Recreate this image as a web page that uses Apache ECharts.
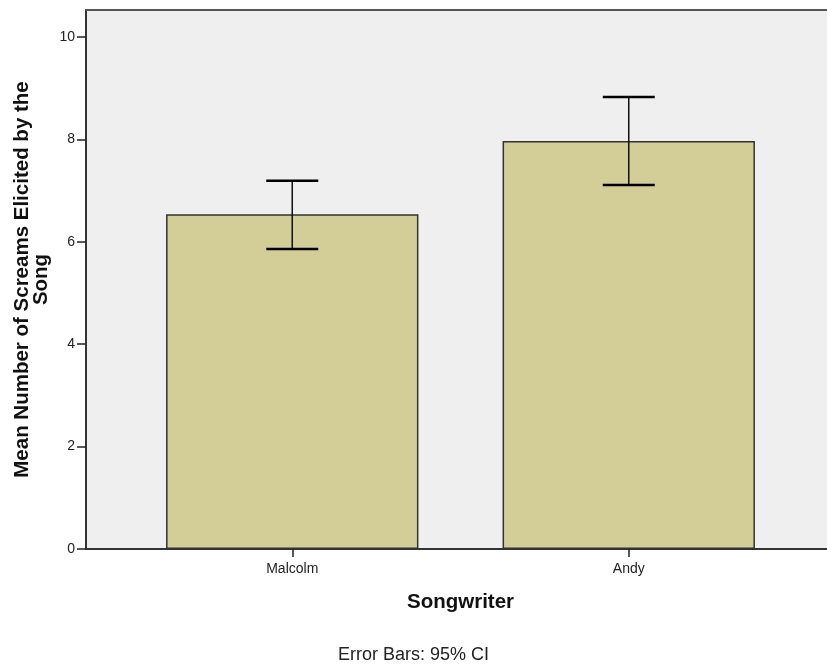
<!DOCTYPE html>
<html>
<head>
<meta charset="utf-8">
<script src="https://cdn.jsdelivr.net/npm/echarts@6/dist/echarts.min.js"></script>
<style>
  html, body { margin: 0; padding: 0; background: #fff; }
  #chart { width: 827px; height: 665px; }
</style>
</head>
<body>
<div id="chart"></div>
<script>
// data
var categories = ['Malcolm', 'Andy']
var means = [6.54, 7.97]
var ciLow = [5.86, 7.11]
var ciHigh = [7.19, 8.83]
var yTicks = [0, 2, 4, 6, 8, 10]

var chart = echarts.init(document.getElementById('chart'))

var errorData = categories.map(function (c, i) {
  return [i, ciLow[i], ciHigh[i]]
})

var option = {
  animation: false,
  textStyle: { fontFamily: 'Liberation Sans, Arial, sans-serif' },
  title: {
    text: 'Error Bars: 95% CI',
    left: 'center',
    bottom: -4,
    textStyle: { fontSize: 18, fontWeight: 'normal', color: '#222' }
  },
  grid: [
    // background frame
    { left: 86, right: 0, top: 10, bottom: 116, show: true, backgroundColor: '#efefef', borderWidth: 0 },
    // data area
    { left: 124, right: 30, top: 37, bottom: 116 }
  ],
  xAxis: [
    {
      gridIndex: 0, type: 'value', position: 'bottom',
      axisLine: { show: true, lineStyle: { color: '#333', width: 2 } },
      axisTick: { show: false }, axisLabel: { show: false }, splitLine: { show: false }
    },
    {
      gridIndex: 0, type: 'value', position: 'top',
      axisLine: { show: true, lineStyle: { color: '#555', width: 2 } },
      axisTick: { show: false }, axisLabel: { show: false }, splitLine: { show: false }
    },
    {
      gridIndex: 1, type: 'category', data: categories,
      name: 'Songwriter', nameLocation: 'middle', nameGap: 43,
      nameTextStyle: { fontSize: 20.5, fontWeight: 'bold', color: '#111' },
      axisLine: { show: false },
      axisTick: { show: true, alignWithLabel: true, length: 8, lineStyle: { color: '#222', width: 1.5 } },
      axisLabel: { fontSize: 14, color: '#222', margin: 13 }
    }
  ],
  yAxis: [
    {
      gridIndex: 0, type: 'value', min: 0, max: 1,
      name: 'Mean Number of Screams Elicited by the\nSong',
      nameLocation: 'middle', nameGap: 35,
      nameTextStyle: { fontSize: 20.5, fontWeight: 'bold', color: '#111', lineHeight: 19 },
      axisLine: { show: true, lineStyle: { color: '#333', width: 2 } },
      axisTick: { show: false }, axisLabel: { show: false }, splitLine: { show: false }
    },
    {
      gridIndex: 1, type: 'value', min: yTicks[0], max: yTicks[yTicks.length - 1], interval: 2,
      offset: 38,
      axisLine: { show: false },
      axisTick: { show: true, length: 9, lineStyle: { color: '#222', width: 1.5 } },
      axisLabel: { fontSize: 14, color: '#222', margin: 11 },
      splitLine: { show: false }
    }
  ],
  series: [
    {
      type: 'bar',
      xAxisIndex: 2,
      yAxisIndex: 1,
      data: means,
      barWidth: '75%',
      itemStyle: { color: '#d3ce97', borderColor: '#333', borderWidth: 1.5 }
    },
    {
      type: 'custom',
      xAxisIndex: 2,
      yAxisIndex: 1,
      data: errorData,
      z: 5,
      renderItem: function (params, api) {
        var x = api.value(0)
        var lo = api.coord([x, api.value(1)])
        var hi = api.coord([x, api.value(2)])
        var half = 26
        var st = { stroke: '#000', lineWidth: 2.5 }
        return {
          type: 'group',
          children: [
            { type: 'line', shape: { x1: hi[0], y1: hi[1], x2: lo[0], y2: lo[1] }, style: { stroke: '#111', lineWidth: 1.5 } },
            { type: 'line', shape: { x1: hi[0] - half, y1: hi[1], x2: hi[0] + half, y2: hi[1] }, style: st },
            { type: 'line', shape: { x1: lo[0] - half, y1: lo[1], x2: lo[0] + half, y2: lo[1] }, style: st }
          ]
        }
      }
    }
  ]
}

chart.setOption(option)
</script>
</body>
</html>
